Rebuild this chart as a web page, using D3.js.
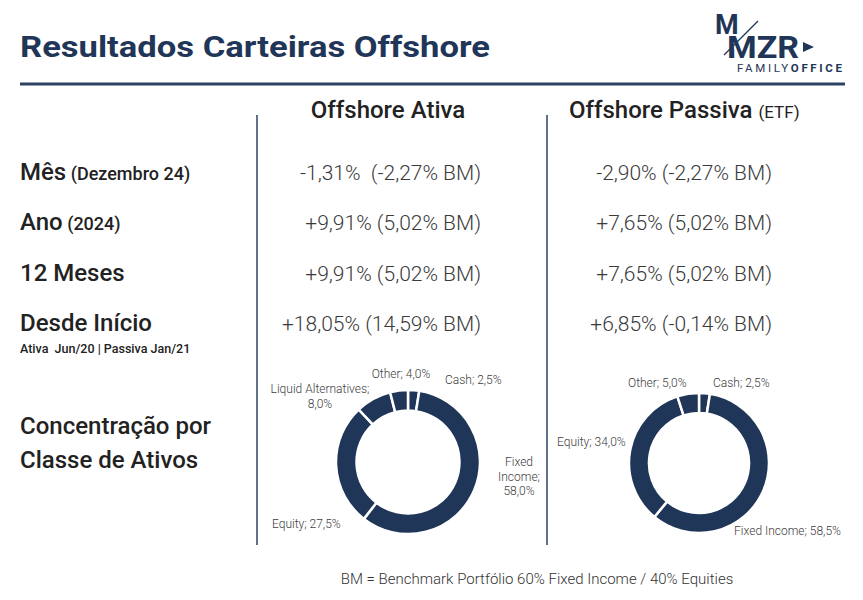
<!DOCTYPE html>
<html>
<head>
<meta charset="utf-8">
<script src="https://cdn.jsdelivr.net/npm/d3@7"></script>
<style>
  body { margin: 0; background: #fff; }
  text { font-family: Roboto, "Noto Sans", sans-serif; }
</style>
</head>
<body>
<div id="chart"></div>
<script>
// row labels and results
const rowLabels = ["Mês", "Ano", "12 Meses", "Desde Início"];
const rowNotes = ["(Dezembro 24)", "(2024)", "", ""];
const ativaValues = ["-1,31%  (-2,27% BM)", "+9,91% (5,02% BM)", "+9,91% (5,02% BM)", "+18,05% (14,59% BM)"];
const passivaValues = ["-2,90% (-2,27% BM)", "+7,65% (5,02% BM)", "+7,65% (5,02% BM)", "+6,85% (-0,14% BM)"];

// allocation by asset class
const ativaClasses = ["Cash", "Fixed Income", "Equity", "Liquid Alternatives", "Other"];
const ativaShares = [2.5, 58.0, 27.5, 8.0, 4.0];
const passivaClasses = ["Cash", "Fixed Income", "Equity", "Other"];
const passivaShares = [2.5, 58.5, 34.0, 5.0];

const navy = "#1f3658";
const width = 863, height = 600;

const svg = d3.select("#chart").append("svg")
  .attr("width", width)
  .attr("height", height)
  .attr("viewBox", [0, 0, width, height]);

svg.append("rect").attr("width", width).attr("height", height).attr("fill", "#fff");

// title
svg.append("text")
  .attr("x", 20).attr("y", 57)
  .attr("font-family", "Lato, Roboto, sans-serif")
  .attr("font-size", 30).attr("font-weight", 700)
  .attr("fill", navy)
  .attr("textLength", 470).attr("lengthAdjust", "spacingAndGlyphs")
  .text("Resultados Carteiras Offshore");

svg.append("line")
  .attr("x1", 20).attr("x2", 845).attr("y1", 84).attr("y2", 84)
  .attr("stroke", "#2c4263").attr("stroke-width", 3);

// logo
const logo = svg.append("g").attr("fill", navy);
logo.append("text").attr("x", 715).attr("y", 34)
  .attr("font-size", 27).attr("font-weight", 700).text("M");
logo.append("text").attr("x", 727).attr("y", 58)
  .attr("font-size", 31).attr("font-weight", 700)
  .attr("textLength", 72).attr("lengthAdjust", "spacingAndGlyphs").text("MZR");
logo.append("path").attr("d", "M803,42 L814,47 L803,52 Z");
logo.append("line").attr("x1", 724).attr("y1", 55).attr("x2", 758).attr("y2", 21)
  .attr("stroke", navy).attr("stroke-width", 1.2);
const fam = logo.append("text").attr("x", 737).attr("y", 72)
  .attr("font-size", 11.5).attr("textLength", 105);
fam.append("tspan").attr("font-weight", 400).text("FAMILY");
fam.append("tspan").attr("font-weight", 700).text("OFFICE");

// column headers
svg.append("text")
  .attr("x", 388).attr("y", 118).attr("text-anchor", "middle")
  .attr("font-size", 24).attr("font-weight", 500).attr("fill", "#222")
  .text("Offshore Ativa");
const ph = svg.append("text")
  .attr("x", 569).attr("y", 118)
  .attr("font-size", 24).attr("font-weight", 500).attr("fill", "#222");
ph.append("tspan").text("Offshore Passiva ");
ph.append("tspan").attr("font-size", 17).attr("font-weight", 400).text("(ETF)");

// column separators
[257, 547].forEach(x => svg.append("line")
  .attr("x1", x).attr("x2", x).attr("y1", 115).attr("y2", 545)
  .attr("stroke", "#2c4263").attr("stroke-width", 1.5));

// rows
const y = d3.scalePoint().domain(rowLabels).range([180, 331]);

const lab = svg.append("g").selectAll("text")
  .data(rowLabels)
  .join("text")
  .attr("x", 20).attr("y", d => y(d))
  .attr("font-size", 24).attr("font-weight", 500).attr("fill", "#222");
lab.append("tspan").text(d => d);
lab.append("tspan").attr("font-size", 18).attr("font-weight", 500)
  .text((d, i) => rowNotes[i] ? " " + rowNotes[i] : "");

svg.append("text")
  .attr("x", 20).attr("y", 353)
  .attr("font-size", 12.5).attr("font-weight", 500).attr("fill", "#222")
  .attr("xml:space", "preserve")
  .text("Ativa  Jun/20 | Passiva Jan/21");

svg.append("g").selectAll("text")
  .data(ativaValues)
  .join("text")
  .attr("x", 481).attr("y", (d, i) => y(rowLabels[i]))
  .attr("text-anchor", "end")
  .attr("font-size", 21).attr("font-weight", 300).attr("fill", "#3a3a3a")
  .attr("xml:space", "preserve")
  .text(d => d);

svg.append("g").selectAll("text")
  .data(passivaValues)
  .join("text")
  .attr("x", 772).attr("y", (d, i) => y(rowLabels[i]))
  .attr("text-anchor", "end")
  .attr("font-size", 21).attr("font-weight", 300).attr("fill", "#3a3a3a")
  .text(d => d);

svg.append("g").selectAll("text")
  .data(["Concentração por", "Classe de Ativos"])
  .join("text")
  .attr("x", 20).attr("y", (d, i) => 434 + i * 34)
  .attr("font-size", 24).attr("font-weight", 500).attr("fill", "#222")
  .text(d => d);

// footer
svg.append("text")
  .attr("x", 537).attr("y", 584).attr("text-anchor", "middle")
  .attr("font-size", 15).attr("font-weight", 300).attr("fill", "#333")
  .text("BM = Benchmark Portfólio 60% Fixed Income / 40% Equities");

// donuts
const fmt = v => d3.format(".1f")(v).replace(".", ",") + "%";

function donut(classes, shares, cx, cy, r, labelPos) {
  const data = classes.map((c, i) => ({ name: c, value: shares[i] }));
  const pie = d3.pie().sort(null).value(d => d.value);
  const arc = d3.arc().innerRadius(r * 0.715).outerRadius(r);
  const g = svg.append("g").attr("transform", `translate(${cx},${cy})`);
  g.selectAll("path")
    .data(pie(data))
    .join("path")
    .attr("d", arc)
    .attr("fill", navy)
    .attr("stroke", "#fff")
    .attr("stroke-width", 2.5);
  const t = g.selectAll("text")
    .data(data)
    .join("text")
    .attr("font-size", 12).attr("font-weight", 300).attr("fill", "#404040")
    .attr("text-anchor", d => labelPos[d.name].anchor)
    .attr("transform", d => `translate(${labelPos[d.name].dx},${labelPos[d.name].dy})`);
  t.selectAll("tspan")
    .data(d => labelPos[d.name].lines.map(l => l.replace("{v}", fmt(d.value))))
    .join("tspan")
    .attr("x", 0)
    .attr("dy", (d, i) => i ? 14.5 : 0)
    .text(d => d);
}

donut(ativaClasses, ativaShares, 408, 462, 72, {
  "Cash": { dx: 37, dy: -78, anchor: "start", lines: ["Cash; {v}"] },
  "Fixed Income": { dx: 111, dy: 4, anchor: "middle", lines: ["Fixed", "Income;", "{v}"] },
  "Equity": { dx: -136, dy: 66, anchor: "start", lines: ["Equity; {v}"] },
  "Liquid Alternatives": { dx: -88, dy: -69, anchor: "middle", lines: ["Liquid Alternatives;", "{v}"] },
  "Other": { dx: -7, dy: -84, anchor: "middle", lines: ["Other; {v}"] }
});

donut(passivaClasses, passivaShares, 699, 463, 70, {
  "Cash": { dx: 14, dy: -76, anchor: "start", lines: ["Cash; {v}"] },
  "Fixed Income": { dx: 35, dy: 72, anchor: "start", lines: ["Fixed Income; {v}"] },
  "Equity": { dx: -142, dy: -17, anchor: "start", lines: ["Equity; {v}"] },
  "Other": { dx: -71, dy: -76, anchor: "start", lines: ["Other; {v}"] }
});
</script>
</body>
</html>
